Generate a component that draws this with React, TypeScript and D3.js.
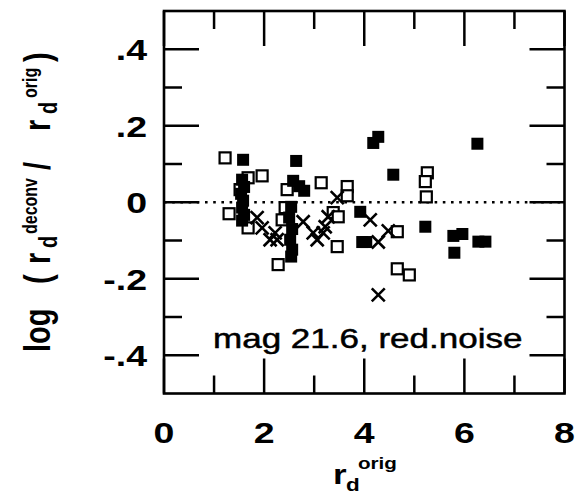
import React from "react";
import * as d3 from "d3";

// ---- data ----
const openX = [1.22, 1.68, 1.96, 1.52, 1.3, 1.68, 2.46, 2.42, 2.36, 2.28, 3.14, 3.66, 3.66, 3.38, 3.48, 3.46, 5.26, 5.22, 5.24, 4.66, 4.66, 4.9];
const openY = [0.116, 0.064, 0.069, 0.033, -0.03, -0.067, 0.033, -0.014, -0.046, -0.163, 0.051, 0.041, 0.017, -0.027, -0.038, -0.116, 0.077, 0.054, 0.014, -0.077, -0.174, -0.19];

const filledX = [1.58, 1.56, 1.6, 1.54, 1.58, 1.56, 1.6, 1.56, 2.64, 2.58, 2.7, 2.8, 2.54, 2.5, 2.56, 2.52, 2.56, 2.54, 3.92, 3.96, 4.04, 4.28, 4.18, 6.26, 4.58, 5.22, 5.78, 5.96, 5.8, 6.28, 6.42];
const filledY = [0.111, 0.059, 0.04, 0.022, 0.004, -0.014, -0.033, -0.048, 0.108, 0.056, 0.042, 0.03, -0.012, -0.04, -0.07, -0.098, -0.124, -0.142, -0.025, -0.104, -0.104, 0.171, 0.155, 0.153, 0.072, -0.064, -0.088, -0.083, -0.132, -0.103, -0.103];

const crossX = [1.86, 1.96, 2.12, 2.22, 2.26, 2.78, 2.98, 3.06, 3.18, 3.22, 3.28, 3.46, 4.12, 4.28, 4.48, 4.28];
const crossY = [-0.04, -0.067, -0.098, -0.08, -0.098, -0.051, -0.08, -0.098, -0.08, -0.064, -0.038, 0.012, -0.046, -0.104, -0.075, -0.242];

const xMajor = [0, 2, 4, 6, 8];
const xMinor = [1, 3, 5, 7];
const yMajor = [-0.4, -0.2, 0, 0.2, 0.4];
const yMinor = [-0.3, -0.1, 0.1, 0.3];
const yTickLabels = ["-.4", "-.2", "0", ".2", ".4"];
const annotation = "mag 21.6, red.noise";

const FONT = "'Liberation Sans', Arial, Helvetica, sans-serif";
const SX = 1.25;

export default function App() {
  const x = d3.scaleLinear().domain([0, 8]).range([164, 564.5]);
  const y = d3.scaleLinear().domain([-0.5, 0.5]).range([393.5, 11]);
  const [x0, x1] = x.range();
  const [y0, y1] = y.range();
  const majL = 35;
  const minL = 18;
  const sw = 2.5;

  const open = openX.map((v, i) => [v, openY[i]]);
  const filled = filledX.map((v, i) => [v, filledY[i]]);
  const cross = crossX.map((v, i) => [v, crossY[i]]);

  return (
    <svg width={578} height={497} style={{ position: "absolute", left: 0, top: 0, background: "#fff" }}>
      <rect x={0} y={0} width={578} height={497} fill="#fff" />
      {/* zero dotted line */}
      <line x1={x(0)} x2={x(8)} y1={y(0)} y2={y(0)} stroke="#000" strokeWidth={2.6} strokeDasharray="2.6 5.6" />

      {/* ticks */}
      {xMajor.map((t) => (
        <g key={"xM" + t}>
          <line x1={x(t)} x2={x(t)} y1={y0} y2={y0 - majL} stroke="#000" strokeWidth={sw} />
          <line x1={x(t)} x2={x(t)} y1={y1} y2={y1 + majL} stroke="#000" strokeWidth={sw} />
        </g>
      ))}
      {xMinor.map((t) => (
        <g key={"xm" + t}>
          <line x1={x(t)} x2={x(t)} y1={y0} y2={y0 - minL} stroke="#000" strokeWidth={sw} />
          <line x1={x(t)} x2={x(t)} y1={y1} y2={y1 + minL} stroke="#000" strokeWidth={sw} />
        </g>
      ))}
      {yMajor.map((t) => (
        <g key={"yM" + t}>
          <line x1={x0} x2={x0 + majL} y1={y(t)} y2={y(t)} stroke="#000" strokeWidth={sw} />
          <line x1={x1} x2={x1 - majL} y1={y(t)} y2={y(t)} stroke="#000" strokeWidth={sw} />
        </g>
      ))}
      {yMinor.map((t) => (
        <g key={"ym" + t}>
          <line x1={x0} x2={x0 + minL} y1={y(t)} y2={y(t)} stroke="#000" strokeWidth={sw} />
          <line x1={x1} x2={x1 - minL} y1={y(t)} y2={y(t)} stroke="#000" strokeWidth={sw} />
        </g>
      ))}

      {/* markers */}
      {open.map(([a, b], i) => (
        <rect key={"o" + i} x={x(a) - 5.5} y={y(b) - 5.5} width={11} height={11} fill="#fff" stroke="#000" strokeWidth={2.2} />
      ))}
      {filled.map(([a, b], i) => (
        <rect key={"f" + i} x={x(a) - 6} y={y(b) - 6} width={12} height={12} fill="#000" />
      ))}
      {cross.map(([a, b], i) => (
        <path key={"c" + i} d={`M${x(a) - 6.5},${y(b) - 6.5}L${x(a) + 6.5},${y(b) + 6.5}M${x(a) - 6.5},${y(b) + 6.5}L${x(a) + 6.5},${y(b) - 6.5}`} stroke="#000" strokeWidth={2.6} fill="none" />
      ))}

      {/* frame */}
      <rect x={x0} y={y1} width={x1 - x0} height={y0 - y1} fill="none" stroke="#000" strokeWidth={2.6} />

      {/* x tick labels */}
      {xMajor.map((t) => (
        <text key={"xl" + t} transform={`translate(${x(t)},443) scale(${SX},1)`} textAnchor="middle" fontFamily={FONT} fontWeight="bold" fontSize={30}>
          {t}
        </text>
      ))}
      {/* y tick labels */}
      {yMajor.map((t, i) => (
        <text key={"yl" + t} transform={`translate(147,${y(t) + 11}) scale(${SX},1)`} textAnchor="end" fontFamily={FONT} fontWeight="bold" fontSize={30}>
          {yTickLabels[i]}
        </text>
      ))}

      {/* annotation */}
      <text transform={`translate(${x(0.98)},${y(-0.38)}) scale(${SX},1)`} fontFamily={FONT} fontSize={28} stroke="#000" strokeWidth={0.5}>
        {annotation}
      </text>

      {/* x title */}
      <g fontFamily={FONT} fontWeight="bold">
        <text transform={`translate(333,484) scale(${SX},1)`} fontSize={28}>r</text>
        <text transform={`translate(346,491) scale(${SX},1)`} fontSize={18}>d</text>
        <text transform={`translate(358,469) scale(${SX},1)`} fontSize={16.5}>orig</text>
      </g>

      {/* y title (rotated) */}
      <g fontFamily={FONT} fontWeight="bold" transform={`translate(0,352) rotate(-90)`}>
        <text transform={`translate(0,50) scale(1,${SX})`} fontSize={29}>log</text>
        <text transform={`translate(68,50) scale(1,${SX})`} fontSize={29}>(</text>
        <text transform={`translate(88,50) scale(1,${SX})`} fontSize={29}>r</text>
        <text transform={`translate(104,57) scale(1,${SX})`} fontSize={20}>d</text>
        <text transform={`translate(118,37) scale(1,${SX})`} fontSize={16}>deconv</text>
        <text transform={`translate(182,50) scale(1,${SX})`} fontSize={29}>/</text>
        <text transform={`translate(221,50) scale(1,${SX})`} fontSize={29}>r</text>
        <text transform={`translate(238,57) scale(1,${SX})`} fontSize={20}>d</text>
        <text transform={`translate(254,37) scale(1,${SX})`} fontSize={16}>orig</text>
        <text transform={`translate(290,50) scale(1,${SX})`} fontSize={29}>)</text>
      </g>
    </svg>
  );
}
